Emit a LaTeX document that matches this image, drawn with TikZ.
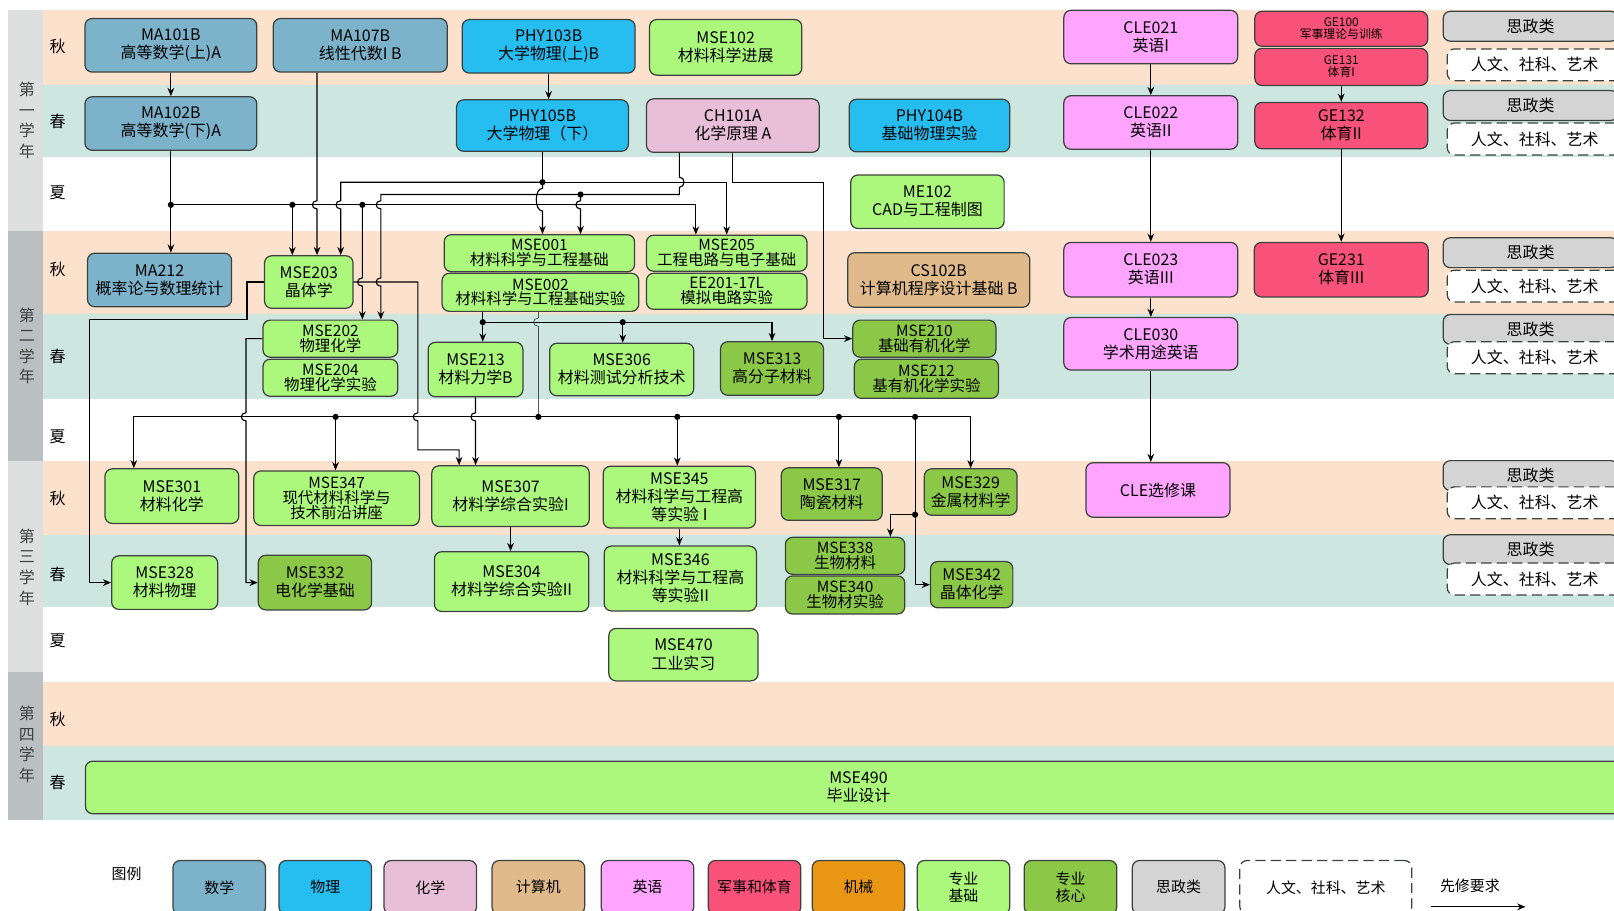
\documentclass[tikz,border=0pt]{standalone}
\usepackage{fontspec}
\setmainfont{Noto Sans CJK SC}
\usetikzlibrary{arrows.meta}

\definecolor{autumnc}{RGB}{252,226,204}
\definecolor{springc}{RGB}{206,230,224}
\definecolor{yearlt}{RGB}{222,224,224}
\definecolor{yeardk}{RGB}{186,192,194}
\definecolor{mathc}{RGB}{125,178,203}
\definecolor{physc}{RGB}{38,190,240}
\definecolor{chemc}{RGB}{232,190,216}
\definecolor{compc}{RGB}{224,186,138}
\definecolor{engc}{RGB}{255,165,255}
\definecolor{pec}{RGB}{248,82,122}
\definecolor{mechc}{RGB}{232,150,20}
\definecolor{basicc}{RGB}{172,248,124}
\definecolor{corec}{RGB}{140,200,72}
\definecolor{polc}{RGB}{212,212,212}
\definecolor{edgec}{RGB}{60,66,62}

% small bridge where a vertical line jumps over a horizontal one
\newcommand{\hopl}[2]{-- (#1,#2-4) .. controls (#1-6,#2-4) and (#1-6,#2+4) .. (#1,#2+4)}

\tikzset{
  course/.style={draw=edgec, line width=1.2pt, rounded corners=7pt, align=center, inner sep=1pt,
    font=\fontsize{15.5}{17.5}\selectfont},
  sz/.style 2 args={minimum width=#1pt, minimum height=#2pt},
  mathbox/.style={course, fill=mathc},
  physbox/.style={course, fill=physc},
  chembox/.style={course, fill=chemc},
  compbox/.style={course, fill=compc},
  engbox/.style={course, fill=engc},
  pebox/.style={course, fill=pec},
  basicbox/.style={course, fill=basicc},
  corebox/.style={course, fill=corec},
  slim/.style={font=\fontsize{15}{14.5}\selectfont},
  gesmall/.style={font=\fontsize{11.5}{11.5}\selectfont},
  polbox/.style={course, fill=polc, sz={170}{29}},
  humbox/.style={course, fill=white, dash pattern=on 10pt off 5pt, sz={170}{31}},
  legbox/.style={course, sz={90}{52}, font=\fontsize{14.5}{16.5}\selectfont},
  semlab/.style={font=\fontsize{15.5}{17}\selectfont},
  yearlab/.style={align=center, text=black!75, font=\fontsize{15.5}{20}\selectfont},
  pre/.style={-{Stealth[length=8pt,width=6.5pt]}, line width=1.1pt},
}

\begin{document}
\begin{tikzpicture}[x=1pt,y=-1pt]
\useasboundingbox (0,0) rectangle (1568,885);
\clip (0,0) rectangle (1568,885);

% semester bands
\foreach \ya/\yb in {10/83,224/305,448/520,663/725}
  \fill[autumnc] (42,\ya) rectangle (1568,\yb);
\foreach \ya/\yb in {83/153,305/388,520/590,725/797}
  \fill[springc] (42,\ya) rectangle (1568,\yb);

% year column
\fill[yearlt] (8,10) rectangle (42,224);
\fill[yeardk] (8,224) rectangle (42,448);
\fill[yearlt] (8,448) rectangle (42,653);
\fill[yeardk] (8,653) rectangle (42,797);
\node[yearlab] (year1) at (26,117) {第\\一\\学\\年};
\node[yearlab] (year2) at (26,336) {第\\二\\学\\年};
\node[yearlab] (year3) at (26,551) {第\\三\\学\\年};
\node[yearlab] (year4) at (26,723) {第\\四\\学\\年};

\foreach \n/\y/\lab in {s11/45/秋,s12/118/春,s13/187/夏,s21/262/秋,s22/346/春,s23/424/夏,
    s31/484/秋,s32/558/春,s33/623/夏,s41/699/秋,s42/760/春}
  \node[semlab] (\n) at (56,\y) {\lab};

% year 1
\node[mathbox, sz={167}{52}] (ma101b) at (166,44) {MA101B\\高等数学(上)A};
\node[mathbox, sz={169}{52}] (ma107b) at (350,44) {MA107B\\线性代数I B};
\node[physbox, sz={168}{52}] (phy103b) at (533,45) {PHY103B\\大学物理(上)B};
\node[basicbox, sz={148}{54}] (mse102) at (705,46) {MSE102\\材料科学进展};
\node[engbox, sz={169}{52}] (cle021) at (1118,36) {CLE021\\英语I};
\node[pebox, gesmall, sz={168}{34}] (ge100) at (1303,28) {GE100\\军事理论与训练};
\node[pebox, gesmall, sz={168}{36}] (ge131) at (1303,65) {GE131\\体育I};

\node[mathbox, sz={167}{52}] (ma102b) at (166,120) {MA102B\\高等数学(下)A};
\node[physbox, sz={167}{50}] (phy105b) at (527,122) {PHY105B\\大学物理（下）};
\node[chembox, sz={168}{52}] (ch101a) at (712,122) {CH101A\\化学原理 A};
\node[physbox, sz={156}{51}] (phy104b) at (903,122) {PHY104B\\基础物理实验};
\node[engbox, sz={169}{52}] (cle022) at (1118,119) {CLE022\\英语II};
\node[pebox, sz={168}{45}] (ge132) at (1303,122) {GE132\\体育II};

\node[basicbox, sz={149}{52}] (me102) at (901,196) {ME102\\CAD与工程制图};

% year 2
\node[mathbox, sz={140}{52}] (ma212) at (155,272) {MA212\\概率论与数理统计};
\node[basicbox, sz={86}{51}] (mse203) at (300,274) {MSE203\\晶体学};
\node[basicbox, slim, sz={185}{36}] (mse001) at (524,246) {MSE001\\材料科学与工程基础};
\node[basicbox, slim, sz={191}{37}] (mse002) at (525,284) {MSE002\\材料科学与工程基础实验};
\node[basicbox, slim, sz={156}{35}] (mse205) at (706,246) {MSE205\\工程电路与电子基础};
\node[basicbox, slim, sz={156}{35}] (ee201) at (706,283) {EE201-17L\\模拟电路实验};
\node[compbox, sz={177}{53}] (cs102b) at (912,272) {CS102B\\计算机程序设计基础 B};
\node[engbox, sz={169}{53}] (cle023) at (1118,262) {CLE023\\英语III};
\node[pebox, sz={169}{53}] (ge231) at (1303,262) {GE231\\体育III};

\node[basicbox, slim, sz={131}{36}] (mse202) at (321,329) {MSE202\\物理化学};
\node[basicbox, slim, sz={131}{36}] (mse204) at (321,367) {MSE204\\物理化学实验};
\node[basicbox, sz={92}{53}] (mse213) at (462,359) {MSE213\\材料力学B};
\node[basicbox, sz={140}{51}] (mse306) at (604,359) {MSE306\\材料测试分析技术};
\node[corebox, sz={100}{52}] (mse313) at (750,358) {MSE313\\高分子材料};
\node[corebox, slim, sz={139}{36}] (mse210) at (898,329) {MSE210\\基础有机化学};
\node[corebox, slim, sz={140}{38}] (mse212) at (900,368) {MSE212\\基有机化学实验};
\node[engbox, sz={169}{51}] (cle030) at (1118,334) {CLE030\\学术用途英语};

% year 3
\node[basicbox, sz={130}{53}] (mse301) at (167,482) {MSE301\\材料化学};
\node[basicbox, slim, sz={161}{53}] (mse347) at (327,484) {MSE347\\现代材料科学与\\技术前沿讲座};
\node[basicbox, sz={153}{59}] (mse307) at (496,482) {MSE307\\材料学综合实验I};
\node[basicbox, sz={148}{60}] (mse345) at (660,483) {MSE345\\材料科学与工程高\\等实验 I};
\node[corebox, sz={98}{51}] (mse317) at (808,480) {MSE317\\陶瓷材料};
\node[corebox, sz={90}{45}] (mse329) at (943,478) {MSE329\\金属材料学};
\node[engbox, sz={140}{53}] (clesel) at (1125,476) {CLE选修课};

\node[basicbox, sz={103}{52}] (mse328) at (160,566) {MSE328\\材料物理};
\node[corebox, sz={110}{53}] (mse332) at (306,566) {MSE332\\电化学基础};
\node[basicbox, sz={150}{58}] (mse304) at (497,565) {MSE304\\材料学综合实验II};
\node[basicbox, sz={148}{63}] (mse346) at (661,562) {MSE346\\材料科学与工程高\\等实验II};
\node[corebox, slim, sz={116}{36}] (mse338) at (821,540) {MSE338\\生物材料};
\node[corebox, slim, sz={116}{37}] (mse340) at (821,578) {MSE340\\生物材实验};
\node[corebox, sz={80}{45}] (mse342) at (944,568) {MSE342\\晶体化学};

\node[basicbox, sz={145}{51}] (mse470) at (664,636) {MSE470\\工业实习};

% year 4
\node[basicbox, sz={1502}{51}] (mse490) at (834,765) {MSE490\\毕业设计};

% general education column
\foreach \i/\ys/\yr in {1/25.5/63,2/102.5/135,3/245.5/278,4/320/347.5,5/462/488.5,6/534/562.5}{
  \node[polbox] (pol\i) at (1487,\ys) {思政类};
  \node[humbox] (hum\i) at (1491,\yr) {人文、社科、艺术};
}

% junctions
\coordinate (jma) at (166,199);
\coordinate (jphy) at (527,177);
\coordinate (jch) at (564,189);
\coordinate (jmse) at (469,313);
\coordinate (jlab) at (523,405);
\coordinate (jbio) at (889,500);

% prerequisites, year 1 -> year 2
\draw[pre] (ma101b) -- (ma102b);
\draw[pre] (ma102b.south) -- (ma102b.south |- ma212.north);
\draw[pre] (jma) -- (676,199) -- ([xshift=-30pt]mse205.north);
\draw[pre] (284,199) -- ([xshift=-16pt]mse203.north);
\draw[pre] ([xshift=-42pt]ma107b.south) \hopl{308}{199} -- ([xshift=8pt]mse203.north);
\draw[pre] (352,199) \hopl{352}{274} -- ([xshift=31pt]mse202.north);

\draw[pre] (phy103b.south) -- (phy103b.south |- phy105b.north);
\draw (phy105b.south) -- (jphy);
\draw[pre] (jphy) -- (331,177) \hopl{331}{199} -- ([xshift=31pt]mse203.north);
\draw[pre] (jphy) -- (706,177) -- (mse205.north);
\draw[pre] (jphy) -- (527,183) .. controls (519,183) and (519,205) .. (527,205) -- ([xshift=3pt]mse001.north);

\draw[pre] ([xshift=-52pt]ch101a.south) -- (660,172) .. controls (666,172) and (666,182) .. (660,182)
  -- (660,189) -- (370,189) \hopl{370}{199} \hopl{370}{274} -- ([xshift=49pt]mse202.north);
\draw[pre] (jch) \hopl{564}{199} -- ([xshift=40pt]mse001.north);
\draw[pre] (ch101a.south) -- (712,177) -- (800,177) |- (mse210.west);

% year 2 -> year 3
\draw[pre] (mse203.west) -- (240,274) -- (240,310) -- (87,310) |- (mse328.west);
\draw[pre] (mse202.west) -- (239,329) \hopl{239}{405} |- (mse332.west);
\draw[pre] (mse203.east) -- (406,274) \hopl{406}{405} -- (406,437) -- (446,437) -- ([xshift=-50pt]mse307.north);

\draw[pre] ([xshift=-56pt]mse002.south) -- ([xshift=7pt]mse213.north);
\draw[pre] (jmse) -- (750,313) -- (mse313.north);
\draw[pre] (605,313) -- ([xshift=1pt]mse306.north);
\draw ([xshift=-2pt]mse002.south) \hopl{523}{313} -- (jlab);
\draw[pre] (jlab) -- (130,405) -- ([xshift=-37pt]mse301.north);
\draw[pre] (jlab) -- (943,405) -- ([xshift=0pt]mse329.north);
\draw[pre] (326,405) -- ([xshift=-1pt]mse347.north);
\draw[pre] (658,405) -- ([xshift=-2pt]mse345.north);
\draw[pre] (815,405) -- ([xshift=7pt]mse317.north);
\draw (889,405) -- (jbio);
\draw[pre] (jbio) -- (865,500) -- ([xshift=44pt]mse338.north);
\draw[pre] (jbio) |- (mse342.west);
\draw[pre] (mse213.south) \hopl{462}{405} -- ([xshift=-34pt]mse307.north);
\draw[pre] (mse307) -- (mse307.south |- mse304.north);
\draw[pre] (mse345) -- (mse345.south |- mse346.north);

% language and sports
\draw[pre] (cle021) -- (cle022);
\draw[pre] (cle022) -- (cle023);
\draw[pre] (cle023) -- (cle030);
\draw[pre] (cle030.south) -- (cle030.south |- clesel.north);
\draw[pre] (ge131) -- (ge132);
\draw[pre] (ge132) -- (ge231);

\foreach \p in {(jma),(284,199),(352,199),(jphy),(jch),(jmse),(605,313),(jlab),(326,405),(658,405),(815,405),(889,405),(jbio)}
  \fill \p circle (3pt);

% legend
\node[font=\fontsize{14.5}{16}\selectfont] (legtitle) at (123,849) {图例};
\foreach \n/\x/\c/\lab in {math/213/mathc/数学, phys/316/physc/物理, chem/418/chemc/化学,
    comp/523/compc/计算机, eng/629/engc/英语, pe/733/pec/军事和体育, mech/834/mechc/机械,
    basic/936/basicc/{专业\\基础}, core/1040/corec/{专业\\核心}, pol/1145/polc/思政类}
  \node[legbox, fill=\c] (leg\n) at (\x,862) {\lab};
\node[humbox, sz={167}{52}, font=\fontsize{14.5}{16.5}\selectfont] (leghum) at (1288,862) {人文、社科、艺术};
\node[font=\fontsize{14.5}{16}\selectfont] (legpre) at (1428,861) {先修要求};
\coordinate (preA) at (1390,881);
\coordinate (preB) at (1482,881);
\draw[pre] (preA) -- (preB);
\end{tikzpicture}
\end{document}
